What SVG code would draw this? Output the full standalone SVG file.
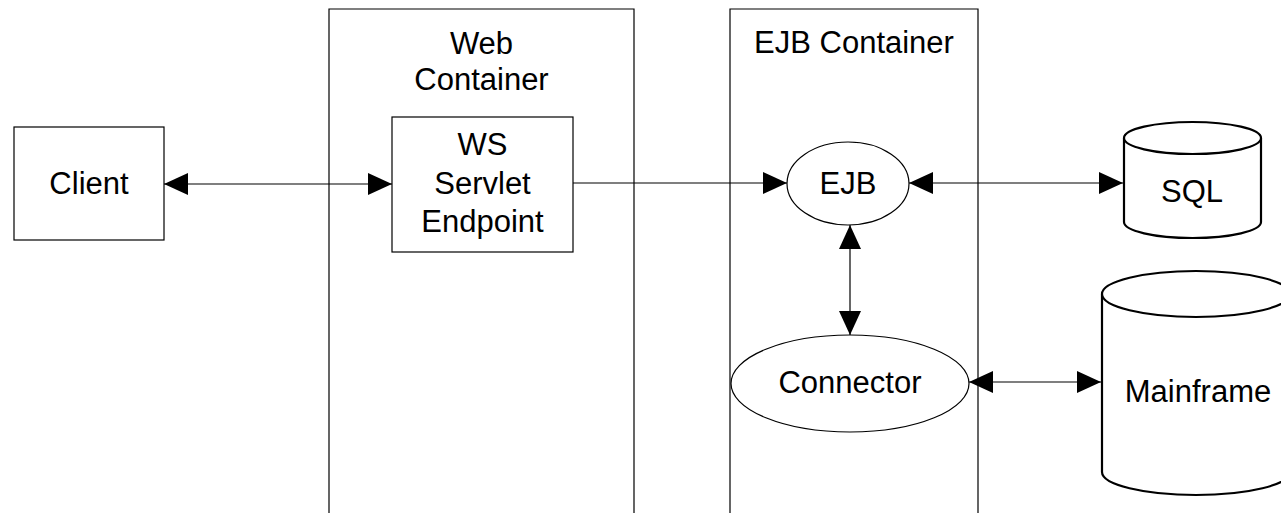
<svg xmlns="http://www.w3.org/2000/svg" width="1281" height="513" viewBox="0 0 1281 513">
<style>
  .box { fill: #fff; stroke: #000; stroke-width: 1.2; }
  .cyl { fill: #fff; stroke: #000; stroke-width: 2.2; }
  .lbl { font-family: "Liberation Sans", Arial, sans-serif; font-size: 31px; fill: #000; text-anchor: middle; }
  .conn { stroke: #000; stroke-width: 1.2; fill: none; }
</style>
<defs>
  <marker id="ah" viewBox="0 0 24 22" refX="24" refY="11" markerWidth="24" markerHeight="22" markerUnits="userSpaceOnUse" orient="auto-start-reverse">
    <path d="M0,0 L24,11 L0,22 z" fill="#000"/>
  </marker>
</defs>
<rect width="1281" height="513" fill="#fff"/>

<g id="web-container">
  <path class="box" d="M329,530 L329,9 L634,9 L634,530"/>
  <text class="lbl" x="481.5" y="54">Web</text>
  <text class="lbl" x="481.5" y="90">Container</text>
</g>
<g id="ejb-container">
  <path class="box" d="M730,530 L730,9 L978,9 L978,530"/>
  <text class="lbl" x="854" y="53">EJB Container</text>
</g>

<g id="client">
  <rect class="box" x="14" y="127" width="150" height="113"/>
  <text class="lbl" x="89" y="194">Client</text>
</g>
<g id="ws-servlet-endpoint">
  <rect class="box" x="392" y="117" width="181" height="135"/>
  <text class="lbl" x="482.5" y="155">WS</text>
  <text class="lbl" x="482.5" y="194">Servlet</text>
  <text class="lbl" x="482.5" y="232">Endpoint</text>
</g>
<g id="ejb">
  <ellipse class="box" cx="848" cy="183.5" rx="61" ry="41.5"/>
  <text class="lbl" x="848" y="194">EJB</text>
</g>
<g id="connector">
  <ellipse class="box" cx="850" cy="383.5" rx="119" ry="48.5"/>
  <text class="lbl" x="850" y="393">Connector</text>
</g>
<g id="sql">
  <path class="cyl" d="M1124,138 L1124,222 A68.5,16 0 0 0 1261,222 L1261,138"/>
  <ellipse class="cyl" cx="1192.5" cy="138" rx="68.5" ry="16"/>
  <text class="lbl" x="1192" y="202">SQL</text>
</g>
<g id="mainframe">
  <path class="cyl" d="M1102,294 L1102,472 A94,23 0 0 0 1290,472 L1290,294"/>
  <ellipse class="cyl" cx="1196" cy="294" rx="94" ry="23"/>
  <text class="lbl" x="1198" y="402">Mainframe</text>
</g>

<g id="connectors">
  <line class="conn" x1="164" y1="184" x2="392" y2="184" marker-start="url(#ah)" marker-end="url(#ah)"/>
  <line class="conn" x1="573" y1="183" x2="787" y2="183" marker-end="url(#ah)"/>
  <line class="conn" x1="909" y1="183" x2="1123" y2="183" marker-start="url(#ah)" marker-end="url(#ah)"/>
  <line class="conn" x1="850" y1="225" x2="850" y2="335" marker-start="url(#ah)" marker-end="url(#ah)"/>
  <line class="conn" x1="969" y1="382" x2="1101" y2="382" marker-start="url(#ah)" marker-end="url(#ah)"/>
</g>
</svg>
